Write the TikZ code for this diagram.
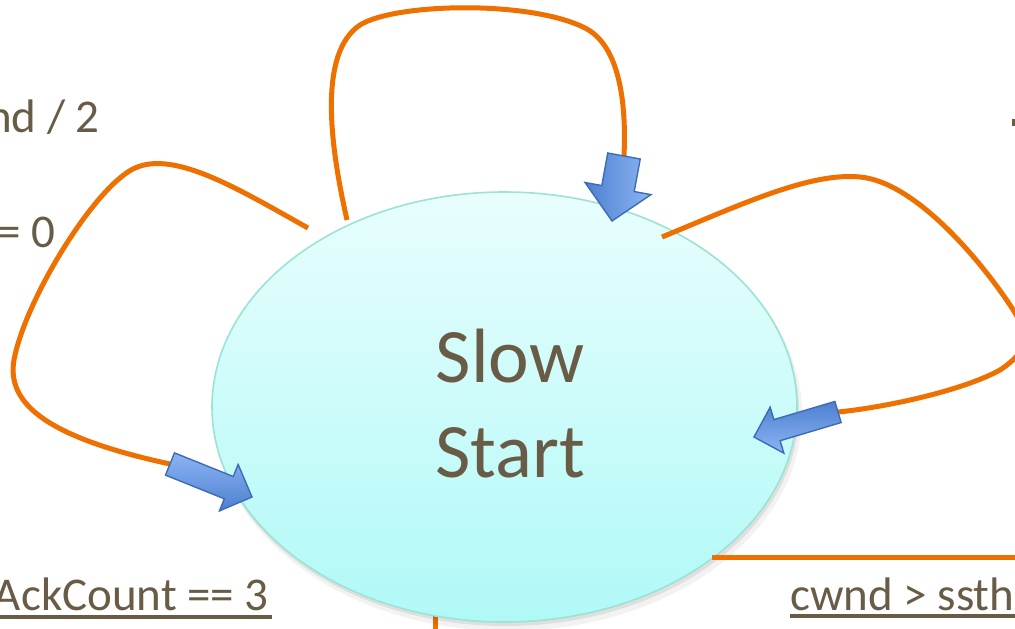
\documentclass[tikz,border=0pt]{standalone}
\usepackage{fontspec}
\setmainfont{Carlito}
\usetikzlibrary{calc,shapes.geometric}
\definecolor{txt}{RGB}{104,92,70}
\definecolor{orng}{RGB}{238,112,0}
\definecolor{elltop}{RGB}{232,254,253}
\definecolor{ellbot}{RGB}{176,249,247}
\definecolor{ellline}{RGB}{155,227,211}
\definecolor{arrdark}{RGB}{78,128,208}
\definecolor{arrlight}{RGB}{140,180,244}
\definecolor{arrline}{RGB}{60,108,180}
\tikzset{
  wire/.style={draw=orng, line width=5pt},
  lab/.style={text=txt, font=\fontsize{47}{56}\selectfont, inner sep=0pt},
  bigtxt/.style={text=txt, font=\fontsize{77}{95}\selectfont, inner sep=0pt, anchor=base},
  statebox/.style={shape=ellipse, draw=ellline, line width=1.6pt, top color=elltop, bottom color=ellbot,
    minimum width=585pt, minimum height=430pt, inner sep=0pt},
  blk/.style={draw=arrline, line width=1.4pt, line join=miter},
  uline/.style={draw=txt, line width=3.5pt},
}
\newcommand\blockarr[6]{%
  \coordinate (#1-h) at ($(#2)!#5!(#1)$);
  \shade[blk,#6] ($(#1)!#3!90:(#2)$) -- ($(#1-h)!#3!90:(#2)$) -- ($(#1-h)!#4!90:(#2)$) -- (#2)
    -- ($(#1-h)!#4!-90:(#2)$) -- ($(#1-h)!#3!-90:(#2)$) -- ($(#1)!#3!-90:(#2)$) -- cycle;
}
\begin{document}
\begin{tikzpicture}[x=1pt,y=-1pt]
\useasboundingbox (0,0) rectangle (1015,629);
\clip (0,0) rectangle (1015,629);
\fill[white] (0,0) rectangle (1015,629);

% bottom stub behind the state
\coordinate (bs0) at (435,580);
\coordinate (bs1) at (435,640);
\draw[wire] (bs0) -- (bs1);

% shadow
\fill[black,opacity=0.05] (508,414) ellipse [x radius=294, y radius=217];
\fill[black,opacity=0.08] (506,411) ellipse [x radius=293, y radius=215];

% state
\node[statebox] (st) at (504.5,407) {};
\node[bigtxt] (slow) at (510,382) {Slow};
\node[bigtxt] (start) at (510,477) {Start};

% labels (partially outside the picture)
\node[lab, anchor=base east] (l1) at (100,132) {nd / 2};
\node[lab, anchor=base east] (l2) at (56,247) {= 0};
\node[lab, anchor=base east] (l3) at (269,610) {AckCount == 3};
\node[lab, anchor=base west] (l4) at (790,610) {cwnd > ssth};
\draw[uline] ($(l3.base west)+(-5,7)$) -- ($(l3.base east)+(3,7)$);
\draw[uline] ($(l4.base west)+(0,6)$) -- ($(l4.base east)+(5,6)$);
\fill[txt] (1012,119) rectangle (1015,126);

% coordinates
\coordinate (lS) at (308,228);
\coordinate (lT) at (170,464);
\coordinate (lP) at (252,497);
\coordinate (tS) at (347,220);
\coordinate (tT) at (624,156);
\coordinate (tP) at (612,221);
\coordinate (rS) at (662,237);
\coordinate (rT) at (838,412);
\coordinate (rP) at (754,437);
\coordinate (bS) at (712,557);
\coordinate (bE) at (1030,557);

% left loop
\draw[wire] (lS) .. controls (240,190) and (175,150) .. (135,168)
  .. controls (95,186) and (25,300) .. (14,360)
  .. controls (6,405) and (50,438) .. (lT);
% top loop
\draw[wire] (tS) .. controls (330,145) and (318,53) .. (360,25)
  .. controls (395,3) and (530,0) .. (585,28)
  .. controls (615,43) and (627,90) .. (tT);
% right loop
\draw[wire] (rS) .. controls (740,205) and (810,172) .. (860,177)
  .. controls (915,182) and (980,260) .. (1010,305)
  .. controls (1030,335) and (1030,350) .. (1000,370)
  .. controls (960,392) and (880,408) .. (rT);
% exit line
\draw[wire] (bS) -- (bE);

% block arrows
\blockarr{tT}{tP}{16.5pt}{33.5pt}{33pt}{left color=arrdark, right color=arrlight}
\blockarr{lT}{lP}{12pt}{25pt}{25pt}{top color=arrlight, bottom color=arrdark}
\blockarr{rT}{rP}{11pt}{24pt}{24pt}{top color=arrdark, bottom color=arrlight}
\end{tikzpicture}
\end{document}
